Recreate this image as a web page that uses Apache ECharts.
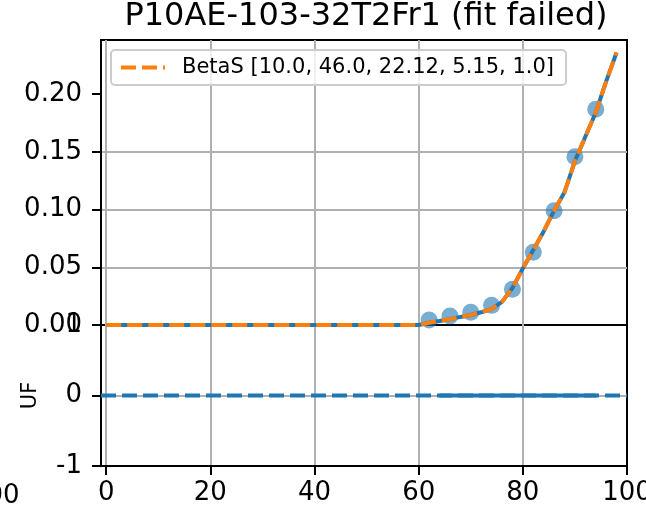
<!DOCTYPE html>
<html><head><meta charset="utf-8">
<script src="https://cdn.jsdelivr.net/npm/echarts@6/dist/echarts.min.js"></script>
<style>html,body{margin:0;padding:0;background:#fff}#c{width:646px;height:527px}</style>
</head><body><div id="c"></div>
<script>
const titleText = 'P10AE-103-32T2Fr1 (fit failed)';
const legendLabel = 'BetaS [10.0, 46.0, 22.12, 5.15, 1.0]';
const yLabelBottom = 'UF';
const clippedLabel = '100';
// measured points
const dataX = [62, 66, 70, 74, 78, 82, 86, 90, 94];
const dataY = [0.0043, 0.0078, 0.011, 0.017, 0.031, 0.063, 0.099, 0.1457, 0.1868];
// fitted curve
const fitX = [0,2,4,6,8,10,12,14,16,18,20,22,24,26,28,30,32,34,36,38,40,42,44,46,48,50,52,54,56,58,60,
              62,64,66,68,70,72,74,76,78,80,82,84,86,88,90,92,94,96,98];
const fitY = [0,0,0,0,0,0,0,0,0,0,0,0,0,0,0,0,0,0,0,0,0,0,0,0,0,0,0,0,0,0,0,
              0.002,0.0035,0.005,0.007,0.0087,0.011,0.014,0.020,0.032,0.049,0.065,0.081,0.099,0.115,0.142,0.163,0.184,0.211,0.236];
// residual panel
const residX = [64, 66, 68, 70, 72, 74, 76, 78, 80, 82, 84, 86, 88, 90, 92, 94];
const residY = [0, 0, 0, 0, 0, 0, 0, 0, 0, 0, 0, 0, 0, 0, 0, 0];
const zeroLineX = [-1, 100];
const zeroLineY = [0, 0];
// axes
const xRange = [-1, 100];
const xTicks = [0, 20, 40, 60, 80, 100];
const yTopRange = [0, 0.2468];
const yTopTicks = [0, 0.05, 0.10, 0.15, 0.20];
const yBottomRange = [-1, 1];
const yBottomTicks = [-1, 0, 1];

const zip = (xs, ys) => xs.map((x, i) => [x, ys[i]]);
const FONT = 'DejaVu Sans';
const BLUE = '#1f77b4', ORANGE = '#ff7f0e', GRIDC = '#b0b0b0';

const chart = echarts.init(document.getElementById('c'), null, {renderer: 'canvas'});
const gridLine = {show: true, lineStyle: {color: GRIDC, width: 2}, showMinLine: false, showMaxLine: false};
const xGridLine = {show: true, lineStyle: {color: GRIDC, width: 2}, showMinLine: true, showMaxLine: false};

chart.setOption({
  animation: false,
  backgroundColor: '#fff',
  title: {
    text: titleText, left: 361, textAlign: 'center', top: -4,
    textStyle: {fontFamily: FONT, fontSize: 32, fontWeight: 'normal', color: '#000'}
  },
  legend: {
    data: [legendLabel],
    left: 111, top: 50, orient: 'vertical',
    padding: [7, 12, 7, 8],
    backgroundColor: 'rgba(255,255,255,0.8)',
    borderColor: '#cccccc', borderWidth: 2, borderRadius: 4,
    itemWidth: 44, itemHeight: 14,
    itemStyle: {opacity: 0},
    lineStyle: {color: ORANGE, width: 4, type: [15, 6]},
    textStyle: {fontFamily: FONT, fontSize: 21, color: '#000', padding: [0, 0, 0, 12]}
  },
  grid: [
    {left: 101, top: 40, width: 526, height: 285, show: true, borderColor: '#000', borderWidth: 2,
     backgroundColor: 'transparent', outerBoundsMode: 'none', containLabel: false},
    {left: 101, top: 325, width: 526, height: 141, show: true, borderColor: '#000', borderWidth: 2,
     backgroundColor: 'transparent', outerBoundsMode: 'none', containLabel: false}
  ],
  xAxis: [
    {type: 'value', gridIndex: 0, min: xRange[0], max: xRange[1],
     axisLine: {show: false}, axisTick: {show: false, customValues: xTicks},
     axisLabel: {show: false, customValues: xTicks}, splitLine: xGridLine},
    {type: 'value', gridIndex: 1, min: xRange[0], max: xRange[1],
     axisLine: {show: true, onZero: false, lineStyle: {color: '#000', width: 2}},
     axisTick: {show: true, customValues: xTicks, length: 9, lineStyle: {color: '#000', width: 2}},
     axisLabel: {show: true, customValues: xTicks, margin: 14, fontFamily: FONT, fontSize: 26, color: '#000',
                 hideOverlap: false},
     splitLine: xGridLine}
  ],
  yAxis: [
    {type: 'value', gridIndex: 0, min: yTopRange[0], max: yTopRange[1],
     axisLine: {show: true, onZero: false, lineStyle: {color: '#000', width: 2}},
     axisTick: {show: true, customValues: yTopTicks, length: 9, lineStyle: {color: '#000', width: 2}},
     axisLabel: {show: true, customValues: yTopTicks, margin: 19, fontFamily: FONT, fontSize: 26, color: '#000',
                 formatter: v => v.toFixed(2), hideOverlap: false},
     splitLine: gridLine},
    {type: 'value', gridIndex: 1, min: yBottomRange[0], max: yBottomRange[1],
     name: yLabelBottom, nameLocation: 'middle', nameGap: 60, nameRotate: 90,
     nameTextStyle: {fontFamily: FONT, fontSize: 21, color: '#000'},
     axisLine: {show: true, onZero: false, lineStyle: {color: '#000', width: 2}},
     axisTick: {show: true, customValues: yBottomTicks, length: 9, lineStyle: {color: '#000', width: 2}},
     axisLabel: {show: true, customValues: yBottomTicks, margin: 19, fontFamily: FONT, fontSize: 26, color: '#000',
                 hideOverlap: false},
     splitLine: gridLine}
  ],
  graphic: [{
    type: 'text', x: -30, y: 483,
    style: {text: clippedLabel, font: '26px "DejaVu Sans"', fill: '#000'}
  }],
  series: [
    {type: 'scatter', name: 'data', xAxisIndex: 0, yAxisIndex: 0, data: zip(dataX, dataY),
     symbolSize: 17, itemStyle: {color: BLUE, opacity: 0.6}, z: 2},
    {type: 'line', name: 'datafit', xAxisIndex: 0, yAxisIndex: 0, data: zip(fitX, fitY),
     symbol: 'none', lineStyle: {color: BLUE, width: 4}, z: 3},
    {type: 'line', name: legendLabel, xAxisIndex: 0, yAxisIndex: 0, data: zip(fitX, fitY),
     symbol: 'none', color: ORANGE, lineStyle: {color: ORANGE, width: 4, type: [15, 6]}, z: 4},
    {type: 'line', name: 'zero', xAxisIndex: 1, yAxisIndex: 1, data: zip(zeroLineX, zeroLineY),
     symbol: 'none', lineStyle: {color: BLUE, width: 4, type: [15, 6]}, z: 3},
    {type: 'line', name: 'resid', xAxisIndex: 1, yAxisIndex: 1, data: zip(residX, residY),
     symbol: 'none', lineStyle: {color: BLUE, width: 4}, z: 3}
  ]
});
</script></body></html>
